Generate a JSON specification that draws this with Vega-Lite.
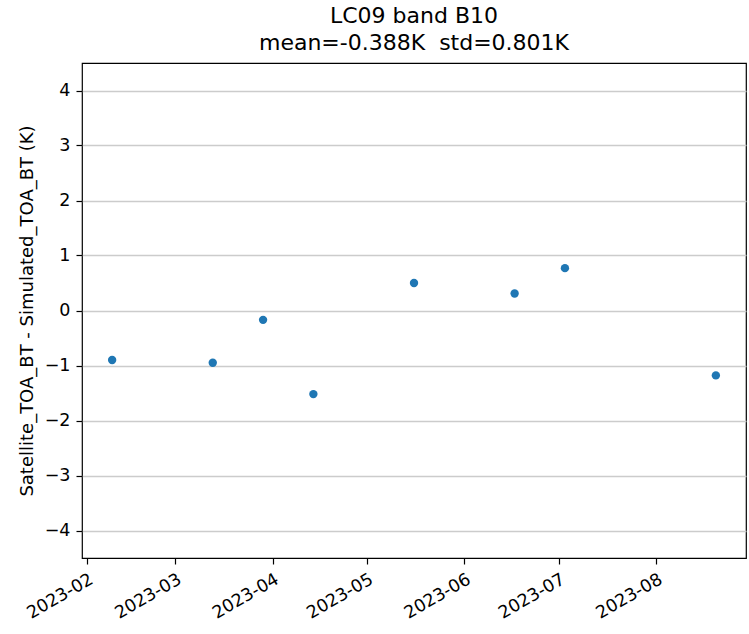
{
  "$schema": "https://vega.github.io/schema/vega-lite/v6.json",
  "width": 664,
  "height": 495,
  "autosize": {"type": "none"},
  "padding": {"left": 82, "top": 63, "right": 3, "bottom": 76},
  "background": "white",
  "config": {
    "font": "DejaVu Sans",
    "view": {"stroke": "#000000", "strokeWidth": 1.2},
    "axis": {
      "domain": false,
      "tickColor": "#000000",
      "tickSize": 6,
      "tickWidth": 1.2,
      "labelColor": "#000000",
      "labelFont": "DejaVu Sans",
      "labelFontSize": 17.5,
      "titleFont": "DejaVu Sans",
      "titleFontSize": 18,
      "titleFontWeight": "normal",
      "titleColor": "#000000"
    }
  },
  "title": {
    "text": ["LC09 band B10", "mean=-0.388K\u00a0 std=0.801K"],
    "font": "DejaVu Sans",
    "fontSize": 22,
    "fontWeight": "normal",
    "color": "#000000",
    "anchor": "middle",
    "lineHeight": 27,
    "offset": 8
  },
  "data": {
    "values": [
      {"date": "2023-02-09", "diff": -0.90},
      {"date": "2023-03-13", "diff": -0.95},
      {"date": "2023-03-29", "diff": -0.17},
      {"date": "2023-04-14", "diff": -1.52},
      {"date": "2023-05-16", "diff": 0.50},
      {"date": "2023-06-17", "diff": 0.31},
      {"date": "2023-07-03", "diff": 0.77},
      {"date": "2023-08-20", "diff": -1.18}
    ]
  },
  "mark": {"type": "circle", "color": "#1f77b4", "opacity": 1, "size": 70},
  "encoding": {
    "x": {
      "field": "date",
      "type": "temporal",
      "title": null,
      "scale": {
        "type": "utc",
        "domain": [
          {"year": 2023, "month": "jan", "date": 30, "hours": 10, "utc": true},
          {"year": 2023, "month": "aug", "date": 29, "hours": 14, "utc": true}
        ]
      },
      "axis": {
        "grid": false,
        "format": "%Y-%m",
        "tickCount": {"interval": "month", "step": 1},
        "labelAngle": -30,
        "labelAlign": "right",
        "labelBaseline": "top",
        "labelPadding": 6,
        "labelFlush": false,
        "labelOverlap": false
      }
    },
    "y": {
      "field": "diff",
      "type": "quantitative",
      "title": "Satellite_TOA_BT - Simulated_TOA_BT (K)",
      "scale": {"domain": [-4.5, 4.5], "nice": false, "zero": false},
      "axis": {
        "values": [-4, -3, -2, -1, 0, 1, 2, 3, 4],
        "format": "d",
        "grid": true,
        "gridColor": "#cccccc",
        "gridWidth": 1.3,
        "labelPadding": 6,
        "titlePadding": 8
      }
    }
  }
}
